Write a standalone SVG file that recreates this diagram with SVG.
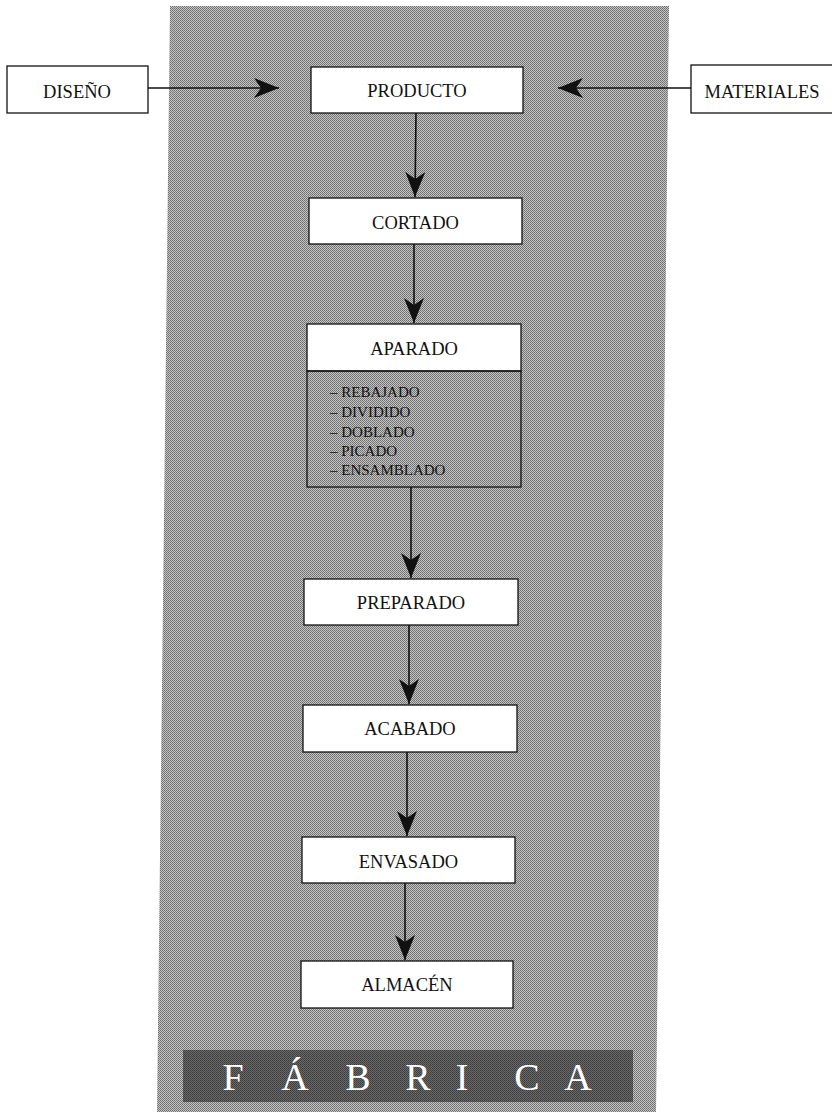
<svg xmlns="http://www.w3.org/2000/svg" width="832" height="1112" viewBox="0 0 832 1112">
<style>
.box{fill:#fff;stroke:#111;stroke-width:1.3}
.sub{fill:none;stroke:#111;stroke-width:1.3}
.t{font-family:"Liberation Serif","Times New Roman",serif;font-size:18.5px;fill:#111;text-anchor:middle}
.s{font-family:"Liberation Serif","Times New Roman",serif;font-size:15px;fill:#111}
.f{font-family:"Liberation Serif","Times New Roman",serif;font-size:38px;fill:#fff;text-anchor:middle}
.c{stroke:#111;stroke-width:1.6;fill:none}
</style>
<defs>
<pattern id="dot" width="2" height="2" patternUnits="userSpaceOnUse">
<rect width="2" height="2" fill="#c4c4c4"/>
<rect width="1" height="1" fill="#6e6e6e"/>
<rect x="1" y="1" width="1" height="1" fill="#7a7a7a"/>
</pattern>
<pattern id="dark" width="2" height="2" patternUnits="userSpaceOnUse">
<rect width="2" height="2" fill="#6a6a6a"/>
<rect width="1" height="1" fill="#3a3a3a"/>
<rect x="1" y="1" width="1" height="1" fill="#444"/>
</pattern>
<marker id="ah" viewBox="0 0 26 20" refX="25" refY="10" markerWidth="26" markerHeight="20" markerUnits="userSpaceOnUse" orient="auto">
<path d="M0,0 L25,10 L0,20 L7,10 Z" fill="#111"/>
</marker>
</defs>

<g id="panel">
<polygon points="170,6 669,6 656,1112 157,1112" fill="url(#dot)"/>
</g>

<g id="connectors">
<line class="c" x1="148" y1="88" x2="279" y2="88" marker-end="url(#ah)"/>
<line class="c" x1="691" y1="88" x2="558" y2="88" marker-end="url(#ah)"/>
<line class="c" x1="416" y1="113" x2="415" y2="197" marker-end="url(#ah)"/>
<line class="c" x1="414" y1="244" x2="414" y2="323" marker-end="url(#ah)"/>
<line class="c" x1="411" y1="487" x2="411" y2="578" marker-end="url(#ah)"/>
<line class="c" x1="409" y1="625" x2="409" y2="704" marker-end="url(#ah)"/>
<line class="c" x1="407" y1="752" x2="407" y2="836" marker-end="url(#ah)"/>
<line class="c" x1="405" y1="883" x2="405" y2="960" marker-end="url(#ah)"/>
</g>

<g id="diseno">
<rect class="box" x="7" y="66" width="141" height="47"/>
<text class="t" x="77" y="98">DISEÑO</text>
</g>
<g id="materiales">
<rect class="box" x="691" y="65" width="145" height="48"/>
<text class="t" x="762" y="98">MATERIALES</text>
</g>
<g id="producto">
<rect class="box" x="311" y="67" width="212" height="46"/>
<text class="t" x="417" y="97">PRODUCTO</text>
</g>
<g id="cortado">
<rect class="box" x="309" y="198" width="213" height="46"/>
<text class="t" x="415.5" y="229">CORTADO</text>
</g>
<g id="aparado">
<rect class="box" x="307" y="324" width="214" height="47"/>
<rect class="sub" x="307" y="371" width="214" height="116"/>
<text class="t" x="414" y="355">APARADO</text>
<text class="s" x="330" y="397">– REBAJADO</text>
<text class="s" x="330" y="417">– DIVIDIDO</text>
<text class="s" x="330" y="437">– DOBLADO</text>
<text class="s" x="330" y="456">– PICADO</text>
<text class="s" x="330" y="475">– ENSAMBLADO</text>
</g>
<g id="preparado">
<rect class="box" x="304" y="579" width="214" height="46"/>
<text class="t" x="411" y="609">PREPARADO</text>
</g>
<g id="acabado">
<rect class="box" x="303" y="705" width="214" height="47"/>
<text class="t" x="410" y="735">ACABADO</text>
</g>
<g id="envasado">
<rect class="box" x="302" y="837" width="213" height="46"/>
<text class="t" x="408.5" y="868">ENVASADO</text>
</g>
<g id="almacen">
<rect class="box" x="301" y="961" width="212" height="47"/>
<text class="t" x="407" y="991">ALMACÉN</text>
</g>
<g id="fabrica">
<rect x="183" y="1050" width="450" height="52" fill="url(#dark)"/>
<text class="f" x="233 295 358 418 462 527 578" y="1090">FÁBRICA</text>
</g>
</svg>
